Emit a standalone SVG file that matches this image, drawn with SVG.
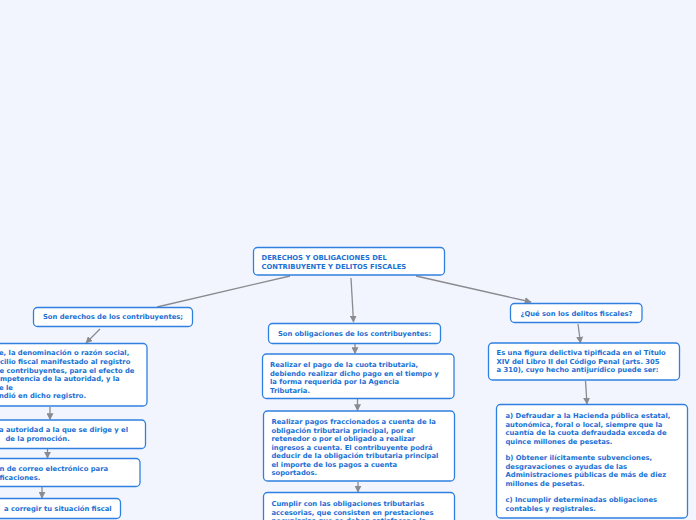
<svg xmlns="http://www.w3.org/2000/svg" width="696" height="520" viewBox="0 0 696 520">
<style>
.bg{fill:#f3f5fe}
.box{fill:#ffffff;stroke:#2f80e0;stroke-width:1.3}
.t{font-family:"DejaVu Sans","Verdana",sans-serif;font-weight:bold;font-size:6.8px;fill:#1b6fd4}
.c{fill:none;stroke:#8a8a8f;stroke-width:1.3}
</style>
<defs>
<marker id="ah" viewBox="0 0 10 10" refX="9" refY="5" markerWidth="7" markerHeight="7" markerUnits="userSpaceOnUse" orient="auto">
<path d="M0,0 L10,5 L0,10 z" fill="#8a8a8f"/>
</marker>
</defs>
<rect class="bg" x="0" y="0" width="696" height="520"/>
<g id="connectors">
<line class="c" x1="290" y1="276" x2="157" y2="307"/>
<line class="c" x1="351" y1="278" x2="353.5" y2="322" marker-end="url(#ah)"/>
<line class="c" x1="416" y1="276" x2="531" y2="302" marker-end="url(#ah)"/>
<line class="c" x1="100" y1="329" x2="86" y2="343" marker-end="url(#ah)"/>
<line class="c" x1="50" y1="407" x2="50" y2="419.5" marker-end="url(#ah)"/>
<line class="c" x1="47.5" y1="449" x2="47.5" y2="458" marker-end="url(#ah)"/>
<line class="c" x1="42" y1="487" x2="42" y2="498" marker-end="url(#ah)"/>
<line class="c" x1="355" y1="344" x2="355" y2="353.5" marker-end="url(#ah)"/>
<line class="c" x1="357.5" y1="399" x2="357.5" y2="410.5" marker-end="url(#ah)"/>
<line class="c" x1="358" y1="482" x2="358" y2="492" marker-end="url(#ah)"/>
<line class="c" x1="578" y1="324" x2="580.5" y2="343" marker-end="url(#ah)"/>
<line class="c" x1="585.5" y1="381" x2="587" y2="404" marker-end="url(#ah)"/>
</g>
<g id="root">
<rect class="box" x="253.5" y="247.5" width="191" height="27.5" rx="4"/>
<text class="t" x="261.5" y="259.5">DERECHOS Y OBLIGACIONES DEL</text>
<text class="t" x="261.5" y="268.5">CONTRIBUYENTE Y DELITOS FISCALES</text>
</g>
<g id="derechos">
<rect class="box" x="33.5" y="307.5" width="159" height="19" rx="4"/>
<text class="t" x="113" y="319" text-anchor="middle">Son derechos de los contribuyentes;</text>
</g>
<g id="derecho1">
<rect class="box" x="-10" y="343.5" width="157" height="62.5" rx="4"/>
<text class="t" x="-1" y="355">e, la denominación o razón social,</text>
<text class="t" x="0" y="364">cilio fiscal manifestado al registro</text>
<text class="t" x="-0.5" y="372.5">e contribuyentes, para el efecto de</text>
<text class="t" x="0" y="381">mpetencia de la autoridad, y la</text>
<text class="t" x="-1" y="389.5">e le</text>
<text class="t" x="-1" y="398">ndió en dicho registro.</text>
</g>
<g id="derecho2">
<rect class="box" x="-10" y="420" width="155.5" height="28.5" rx="4"/>
<text class="t" x="-1" y="432">a autoridad a la que se dirige y el</text>
<text class="t" x="5.5" y="441">de la promoción.</text>
</g>
<g id="derecho3">
<rect class="box" x="-10" y="458.5" width="150" height="28" rx="4"/>
<text class="t" x="-0.5" y="471">n de correo electrónico para</text>
<text class="t" x="-0.5" y="479.5">ficaciones.</text>
</g>
<g id="derecho4">
<rect class="box" x="-10" y="498.5" width="130.5" height="20" rx="4"/>
<text class="t" x="4" y="511">a corregir tu situación fiscal</text>
</g>
<g id="obligaciones">
<rect class="box" x="268.5" y="323.5" width="172" height="20" rx="4"/>
<text class="t" x="354.5" y="335.5" text-anchor="middle">Son obligaciones de los contribuyentes:</text>
</g>
<g id="obligacion1">
<rect class="box" x="262.5" y="354" width="191.5" height="44.5" rx="4"/>
<text class="t" x="270" y="367">Realizar el pago de la cuota tributaria,</text>
<text class="t" x="270" y="375.5">debiendo realizar dicho pago en el tiempo y</text>
<text class="t" x="270" y="384">la forma requerida por la Agencia</text>
<text class="t" x="270" y="392.5">Tributaria.</text>
</g>
<g id="obligacion2">
<rect class="box" x="263.5" y="411" width="191" height="70" rx="4"/>
<text class="t" x="271.5" y="424">Realizar pagos fraccionados a cuenta de la</text>
<text class="t" x="271.5" y="432.5">obligación tributaria principal, por el</text>
<text class="t" x="271.5" y="441">retenedor o por el obligado a realizar</text>
<text class="t" x="271.5" y="449.5">ingresos a cuenta. El contribuyente podrá</text>
<text class="t" x="271.5" y="458">deducir de la obligación tributaria principal</text>
<text class="t" x="271.5" y="466.5">el importe de los pagos a cuenta</text>
<text class="t" x="271.5" y="475">soportados.</text>
</g>
<g id="obligacion3">
<rect class="box" x="263.5" y="492.5" width="191" height="40" rx="4"/>
<text class="t" x="271.5" y="506">Cumplir con las obligaciones tributarias</text>
<text class="t" x="271.5" y="514.5">accesorias, que consisten en prestaciones</text>
<text class="t" x="271.5" y="523">pecuniarias que se deben satisfacer a la</text>
</g>
<g id="delitos">
<rect class="box" x="510.5" y="303.5" width="131.5" height="19" rx="4"/>
<text class="t" x="576.5" y="315.5" text-anchor="middle">¿Qué son los delitos fiscales?</text>
</g>
<g id="definicion">
<rect class="box" x="488.5" y="343" width="191" height="37" rx="4"/>
<text class="t" x="496.5" y="355">Es una figura delictiva tipificada en el Título</text>
<text class="t" x="496.5" y="363.5">XIV del Libro II del Código Penal (arts. 305</text>
<text class="t" x="496.5" y="372">a 310), cuyo hecho antijurídico puede ser:</text>
</g>
<g id="supuestos">
<rect class="box" x="496.5" y="404.5" width="191" height="113.5" rx="4"/>
<text class="t" x="505.5" y="418">a) Defraudar a la Hacienda pública estatal,</text>
<text class="t" x="505.5" y="426.5">autonómica, foral o local, siempre que la</text>
<text class="t" x="505.5" y="435">cuantía de la cuota defraudada exceda de</text>
<text class="t" x="505.5" y="443.5">quince millones de pesetas.</text>
<text class="t" x="505.5" y="460">b) Obtener ilícitamente subvenciones,</text>
<text class="t" x="505.5" y="468.5">desgravaciones o ayudas de las</text>
<text class="t" x="505.5" y="477">Administraciones públicas de más de diez</text>
<text class="t" x="505.5" y="485.5">millones de pesetas.</text>
<text class="t" x="505.5" y="502">c) Incumplir determinadas obligaciones</text>
<text class="t" x="505.5" y="510.5">contables y registrales.</text>
</g>
</svg>
